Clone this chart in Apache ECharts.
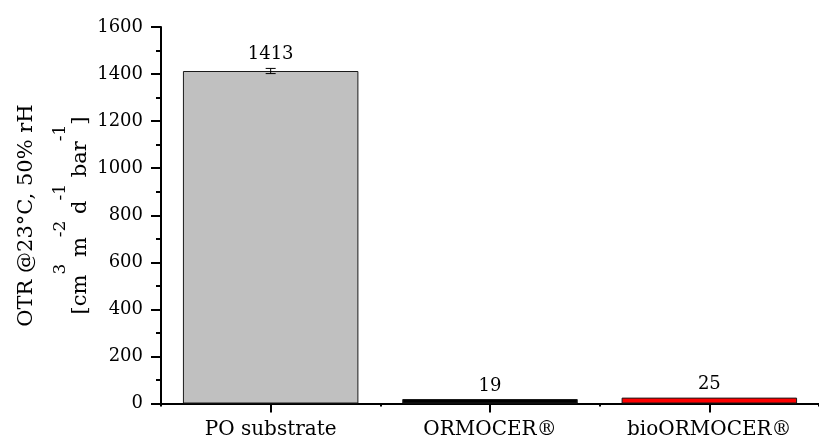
<!DOCTYPE html>
<html>
<head>
<meta charset="utf-8">
<script src="https://cdn.jsdelivr.net/npm/echarts@6/dist/echarts.min.js"></script>
<style>html,body{margin:0;padding:0;background:#fff}#c{width:819px;height:441px}</style>
</head>
<body>
<div id="c"></div>
<script>
var categories = ['PO substrate', 'ORMOCER®', 'bioORMOCER®'];
var otrValues = [1413, 19, 25];
var otrErrors = [11, 0, 0];
var barColors = ['#c0c0c0', '#000000', '#ff0000'];
var yTicks = [0, 200, 400, 600, 800, 1000, 1200, 1400, 1600];
var titleLine1 = 'OTR @23°C, 50% rH';

var FONT = 'DejaVu Serif';
var chart = echarts.init(document.getElementById('c'), null, {renderer: 'canvas'});

var barData = otrValues.map(function (v, i) {
  return {
    value: v,
    itemStyle: {color: barColors[i], borderColor: '#1a1a1a', borderWidth: 1},
    label: {distance: otrErrors[i] > 0 ? 8 : 4}
  };
});
var errData = otrValues.map(function (v, i) { return [i, v, otrErrors[i]]; });

var option = {
  animation: false,
  backgroundColor: '#fff',
  grid: {left: 161, top: 27, bottom: 37.5, width: 667.5, containLabel: false},
  xAxis: [{
    type: 'category',
    data: categories,
    position: 'bottom',
    axisLine: {show: true, lineStyle: {color: '#000', width: 2}},
    axisTick: {show: true, alignWithLabel: false, length: 3, lineStyle: {color: '#000', width: 2}},
    axisLabel: {color: '#000', fontFamily: FONT, fontSize: 20, margin: 16},
    splitLine: {show: false}
  }, {
    type: 'category',
    data: categories,
    position: 'bottom',
    axisLine: {show: false},
    axisTick: {show: true, alignWithLabel: true, length: 9, lineStyle: {color: '#000', width: 2}},
    axisLabel: {show: false},
    splitLine: {show: false}
  }],
  yAxis: {
    type: 'value',
    min: yTicks[0],
    max: yTicks[yTicks.length - 1],
    interval: yTicks[1] - yTicks[0],
    axisLine: {show: true, lineStyle: {color: '#000', width: 2}},
    axisTick: {show: true, length: 10, lineStyle: {color: '#000', width: 2}},
    minorTick: {show: true, splitNumber: 2, length: 5, lineStyle: {color: '#000', width: 2}},
    axisLabel: {color: '#000', fontFamily: FONT, fontSize: 18, margin: 18,
      formatter: function (v) { return String(v); }},
    splitLine: {show: false}
  },
  graphic: [{
    type: 'text',
    x: 27, y: 215.5,
    rotation: Math.PI / 2,
    style: {
      text: titleLine1,
      fill: '#000',
      font: '21px "DejaVu Serif"',
      align: 'center',
      verticalAlign: 'middle'
    }
  }, {
    type: 'text',
    x: 72, y: 215.5,
    rotation: Math.PI / 2,
    style: {
      text: '{n|[cm}{s|3}{n| m}{s|-2}{n| d}{s|-1}{n| bar}{s|-1}{n|]}',
      fill: '#000',
      align: 'center',
      verticalAlign: 'middle',
      rich: {
        n: {fontFamily: FONT, fontSize: 21, lineHeight: 23, verticalAlign: 'bottom', fill: '#000'},
        s: {fontFamily: FONT, fontSize: 17, lineHeight: 39, verticalAlign: 'top', fill: '#000'}
      }
    }
  }],
  series: [{
    type: 'bar',
    xAxisIndex: 0,
    data: barData,
    barCategoryGap: '20%',
    label: {show: true, position: 'top', color: '#000', fontFamily: FONT, fontSize: 18}
  }, {
    type: 'custom',
    xAxisIndex: 0,
    data: errData,
    z: 10,
    renderItem: function (params, api) {
      var idx = api.value(0), v = api.value(1), e = api.value(2);
      if (!e) return null;
      var hi = api.coord([idx, v + e]);
      var lo = api.coord([idx, v - e]);
      var hw = 5;
      var st = {stroke: '#000', lineWidth: 1};
      return {
        type: 'group',
        children: [
          {type: 'line', shape: {x1: hi[0], y1: hi[1], x2: lo[0], y2: lo[1]}, style: st},
          {type: 'line', shape: {x1: hi[0] - hw, y1: hi[1], x2: hi[0] + hw, y2: hi[1]}, style: st},
          {type: 'line', shape: {x1: lo[0] - hw, y1: lo[1], x2: lo[0] + hw, y2: lo[1]}, style: st}
        ]
      };
    }
  }]
};
chart.setOption(option);
</script>
</body>
</html>
